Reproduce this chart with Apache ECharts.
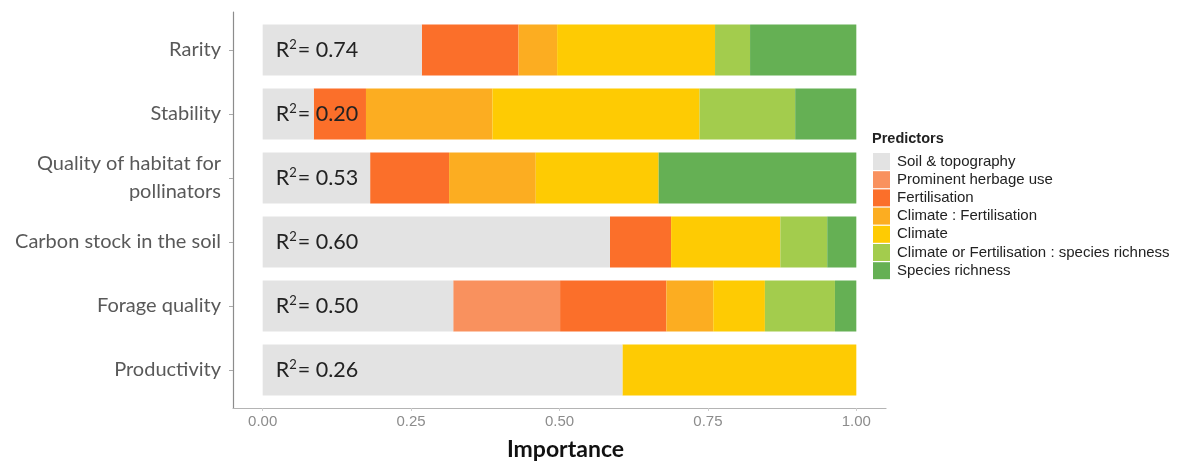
<!DOCTYPE html>
<html><head><meta charset="utf-8">
<script src="https://cdn.jsdelivr.net/npm/echarts@6/dist/echarts.min.js"></script>
<style>html,body{margin:0;padding:0;background:#fff}#c{width:1179px;height:462px}</style>
</head><body><div id="c"></div>
<script>
const categories = ['Rarity', 'Stability', 'Quality of habitat for\npollinators', 'Carbon stock in the soil', 'Forage quality', 'Productivity'];
const r2Labels = ['0.74', '0.20', '0.53', '0.60', '0.50', '0.26'];
const predictors = ['Soil & topography', 'Prominent herbage use', 'Fertilisation', 'Climate : Fertilisation', 'Climate', 'Climate or Fertilisation : species richness', 'Species richness'];
const soilTopography   = [0.268, 0.086, 0.181, 0.585, 0.321, 0.606];
const herbageUse       = [0,     0,     0,     0,     0.180, 0];
const fertilisation    = [0.163, 0.088, 0.133, 0.103, 0.179, 0];
const climateFert      = [0.065, 0.213, 0.146, 0,     0.079, 0];
const climate          = [0.266, 0.349, 0.207, 0.184, 0.087, 0.394];
const climateOrFertSR  = [0.059, 0.161, 0,     0.079, 0.118, 0];
const speciesRichness  = [0.179, 0.103, 0.333, 0.049, 0.036, 0];
const xTicks = [0, 0.25, 0.5, 0.75, 1];
const xTickLabels = ['0.00', '0.25', '0.50', '0.75', '1.00'];
const colors = ['#e3e3e3', '#f9915e', '#fb6f2a', '#fcad21', '#fecb03', '#a3cc4d', '#65b054'];

const seriesData = [soilTopography, herbageUse, fertilisation, climateFert, climate, climateOrFertSR, speciesRichness];

const series = seriesData.map((d, i) => ({
  name: predictors[i],
  type: 'bar',
  stack: 'imp',
  xAxisIndex: 0, yAxisIndex: 0,
  barWidth: 51,
  z: i === 0 ? 5 : 2,
  itemStyle: { color: colors[i] },
  emphasis: { disabled: true },
  data: d,
  label: i === 0 ? {
    show: true,
    position: 'insideLeft',
    distance: 13,
    formatter: p => '{a|R}{s|2}{a|= ' + r2Labels[p.dataIndex] + '}',
    rich: {
      a: { fontFamily: 'Lato', fontSize: 21.5, color: '#222' },
      s: { fontFamily: 'Lato', fontSize: 13, color: '#222', verticalAlign: 'bottom', padding: [0, 1, 10, 0] }
    }
  } : { show: false }
}));

const chart = echarts.init(document.getElementById('c'), null, { renderer: 'canvas' });
chart.setOption({
  animation: false,
  backgroundColor: '#fff',
  title: {
    text: 'Predictors', left: 872, top: 131, padding: 0,
    textStyle: { fontFamily: 'Liberation Sans', fontSize: 14.5, fontWeight: 'bold', color: '#222' }
  },
  legend: {
    orient: 'vertical', left: 873, top: 153, padding: 0,
    itemWidth: 17, itemHeight: 17, itemGap: 1.2, icon: 'rect',
    selectedMode: false,
    data: predictors,
    textStyle: { fontFamily: 'Liberation Sans', fontSize: 15, color: '#222', padding: [0, 0, 0, 2] }
  },
  grid: [
    { left: 233, right: 293, top: 18, bottom: 60, outerBoundsMode: 'none', containLabel: false },
    { left: 233, right: 293, top: 12, bottom: 54, outerBoundsMode: 'none', containLabel: false }
  ],
  xAxis: [
    {
      type: 'value', gridIndex: 0, min: -0.05, max: 1.05,
      axisLine: { show: false }, axisTick: { show: false }, axisLabel: { show: false }, splitLine: { show: false }
    },
    {
      type: 'value', gridIndex: 1, min: -0.05, max: 1.05,
      axisLine: { show: true, onZero: false, lineStyle: { color: '#b4b4b4', width: 1.2 } },
      axisTick: { show: true, length: 3, customValues: xTicks, lineStyle: { color: '#ccc' } },
      axisLabel: {
        customValues: xTicks, margin: 6,
        formatter: v => xTickLabels[xTicks.indexOf(v)] ?? '',
        fontFamily: 'Liberation Sans', fontSize: 15, color: '#8c8c8c'
      },
      splitLine: { show: false },
      name: 'Importance', nameLocation: 'middle', nameGap: 30,
      nameTextStyle: { fontFamily: 'Lato', fontSize: 23, fontWeight: 'bold', color: '#111', padding: [0, 0, 0, 12] }
    }
  ],
  yAxis: [
    {
      type: 'category', gridIndex: 0, inverse: true, data: categories,
      axisLine: { show: false, onZero: false },
      axisTick: { show: true, length: 4, alignWithLabel: true, lineStyle: { color: '#aaa' } },
      axisLabel: { margin: 12, fontFamily: 'Lato', fontSize: 20, lineHeight: 28, color: '#595959' }
    },
    {
      type: 'value', gridIndex: 1, min: 0, max: 1,
      axisLine: { show: true, onZero: false, lineStyle: { color: '#8c8c8c', width: 1.2 } },
      axisTick: { show: false }, axisLabel: { show: false }, splitLine: { show: false }
    }
  ],
  series: series
});
</script></body></html>
